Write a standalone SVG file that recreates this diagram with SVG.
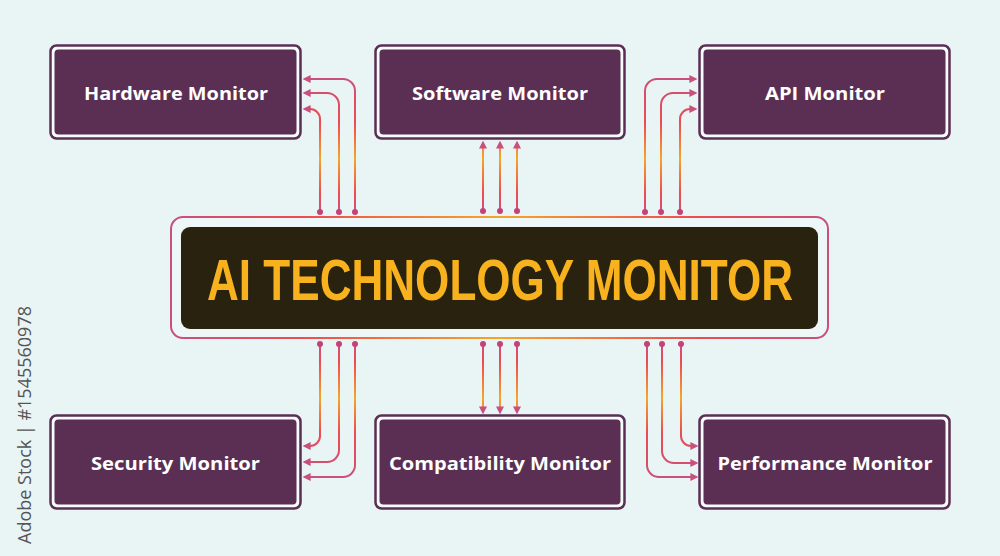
<svg xmlns="http://www.w3.org/2000/svg" width="1000" height="556" viewBox="0 0 1000 556">
<defs>
<style>
.frame{fill:#f6fbfb;stroke:#5b2f54;stroke-width:2.5}
.inner{fill:#5b2f54}
.lbl{font-family:"Open Sans","Liberation Sans",sans-serif;font-weight:700;font-size:18px;fill:#ffffff;text-anchor:middle}
.ln{fill:none;stroke-width:2}
.dot{fill:#c4417a}
</style>
<linearGradient id="gTop" gradientUnits="userSpaceOnUse" x1="0" y1="75" x2="0" y2="214">
<stop offset="0" stop-color="#c8507c"/>
<stop offset="0.35" stop-color="#ec4c52"/>
<stop offset="0.6" stop-color="#f6a52a"/>
<stop offset="0.85" stop-color="#ec4c52"/>
<stop offset="1" stop-color="#c8507c"/>
</linearGradient>
<linearGradient id="gBot" gradientUnits="userSpaceOnUse" x1="0" y1="342" x2="0" y2="481">
<stop offset="0" stop-color="#c8507c"/>
<stop offset="0.15" stop-color="#ec4c52"/>
<stop offset="0.4" stop-color="#f6a52a"/>
<stop offset="0.65" stop-color="#ec4c52"/>
<stop offset="1" stop-color="#c8507c"/>
</linearGradient>
<linearGradient id="gFrame" gradientUnits="userSpaceOnUse" x1="171" y1="0" x2="829" y2="0">
<stop offset="0" stop-color="#c8507c"/>
<stop offset="0.2" stop-color="#ec4c52"/>
<stop offset="0.5" stop-color="#f6a52a"/>
<stop offset="0.8" stop-color="#ec4c52"/>
<stop offset="1" stop-color="#c8507c"/>
</linearGradient>
<marker id="arr" viewBox="0 0 10 10" refX="2" refY="5" markerWidth="4" markerHeight="4" orient="auto" markerUnits="strokeWidth">
<path d="M0,0 L10,5 L0,10 z" fill="#c8507c"/>
</marker>
</defs>
<rect x="0" y="0" width="1000" height="556" fill="#e9f4f5"/>

<g id="connectors">
<g stroke="url(#gTop)" class="ln" marker-end="url(#arr)">
<path class="ln" d="M355,212 V91 A12,12 0 0 0 343,79 H309"/>
<path class="ln" d="M339,212 V105 A12,12 0 0 0 327,93 H309"/>
<path class="ln" d="M320,212 V119 A10,10 0 0 0 310,109 H309"/>
<path class="ln" d="M645,212 V91 A12,12 0 0 1 657,79 H691"/>
<path class="ln" d="M661,212 V105 A12,12 0 0 1 673,93 H691"/>
<path class="ln" d="M680,212 V119 A10,10 0 0 1 690,109 H691"/>
<path class="ln" d="M483,211 V147"/>
<path class="ln" d="M500,211 V147"/>
<path class="ln" d="M517,211 V147"/>
</g>
<g stroke="url(#gBot)" class="ln" marker-end="url(#arr)">
<path class="ln" d="M320,344 V436 A10,10 0 0 1 310,446 H309"/>
<path class="ln" d="M339,344 V450 A12,12 0 0 1 327,462 H309"/>
<path class="ln" d="M355,344 V465 A12,12 0 0 1 343,477 H309"/>
<path class="ln" d="M681,344 V436 A10,10 0 0 0 691,446 H692"/>
<path class="ln" d="M662,344 V451 A12,12 0 0 0 674,463 H692"/>
<path class="ln" d="M647,344 V465 A12,12 0 0 0 659,477 H692"/>
<path class="ln" d="M483,344 V408"/>
<path class="ln" d="M500,344 V408"/>
<path class="ln" d="M517,344 V408"/>
</g>
<g class="dot">
<circle cx="320" cy="212" r="3"/><circle cx="339" cy="212" r="3"/><circle cx="355" cy="212" r="3"/>
<circle cx="483" cy="211" r="3"/><circle cx="500" cy="211" r="3"/><circle cx="517" cy="211" r="3"/>
<circle cx="645" cy="212" r="3"/><circle cx="661" cy="212" r="3"/><circle cx="680" cy="212" r="3"/>
<circle cx="320" cy="344" r="3"/><circle cx="339" cy="344" r="3"/><circle cx="355" cy="344" r="3"/>
<circle cx="483" cy="344" r="3"/><circle cx="500" cy="344" r="3"/><circle cx="517" cy="344" r="3"/>
<circle cx="647" cy="344" r="3"/><circle cx="662" cy="344" r="3"/><circle cx="681" cy="344" r="3"/>
</g>
</g>

<g id="center">
<rect x="171" y="217" width="657" height="121" rx="12" fill="#eef7f8" stroke="url(#gFrame)" stroke-width="2"/>
<rect x="181" y="227" width="637" height="102" rx="9" fill="#29220f"/>
<text x="500" y="300" font-family="'Liberation Sans Narrow','Liberation Sans',sans-serif" font-weight="700" font-size="57" fill="#f7b21d" text-anchor="middle" textLength="586" lengthAdjust="spacingAndGlyphs">AI TECHNOLOGY MONITOR</text>
</g>

<g id="hardware">
<rect class="frame" x="50.5" y="45.5" width="250" height="93" rx="6"/>
<rect class="inner" x="54.5" y="49.5" width="242" height="85" rx="4"/>
<text class="lbl" x="176" y="100" textLength="184" lengthAdjust="spacingAndGlyphs">Hardware Monitor</text>
</g>
<g id="software">
<rect class="frame" x="375.5" y="45.5" width="249" height="93" rx="6"/>
<rect class="inner" x="379.5" y="49.5" width="241" height="85" rx="4"/>
<text class="lbl" x="500" y="100" textLength="176" lengthAdjust="spacingAndGlyphs">Software Monitor</text>
</g>
<g id="api">
<rect class="frame" x="699.5" y="45.5" width="250" height="93" rx="6"/>
<rect class="inner" x="703.5" y="49.5" width="242" height="85" rx="4"/>
<text class="lbl" x="825" y="100" textLength="120" lengthAdjust="spacingAndGlyphs">API Monitor</text>
</g>
<g id="security">
<rect class="frame" x="50.5" y="415.5" width="250" height="93" rx="6"/>
<rect class="inner" x="54.5" y="419.5" width="242" height="85" rx="4"/>
<text class="lbl" x="175.5" y="470" textLength="169" lengthAdjust="spacingAndGlyphs">Security Monitor</text>
</g>
<g id="compatibility">
<rect class="frame" x="375.5" y="415.5" width="249" height="93" rx="6"/>
<rect class="inner" x="379.5" y="419.5" width="241" height="85" rx="4"/>
<text class="lbl" x="500" y="470" textLength="222" lengthAdjust="spacingAndGlyphs">Compatibility Monitor</text>
</g>
<g id="performance">
<rect class="frame" x="699.5" y="415.5" width="250" height="93" rx="6"/>
<rect class="inner" x="703.5" y="419.5" width="242" height="85" rx="4"/>
<text class="lbl" x="825" y="470" textLength="215" lengthAdjust="spacingAndGlyphs">Performance Monitor</text>
</g>

<text x="31" y="306" transform="rotate(-90 31 306)" font-family="'Open Sans','Liberation Sans',sans-serif" font-size="18" fill="#555555" text-anchor="end">Adobe Stock | #1545560978</text>
</svg>
